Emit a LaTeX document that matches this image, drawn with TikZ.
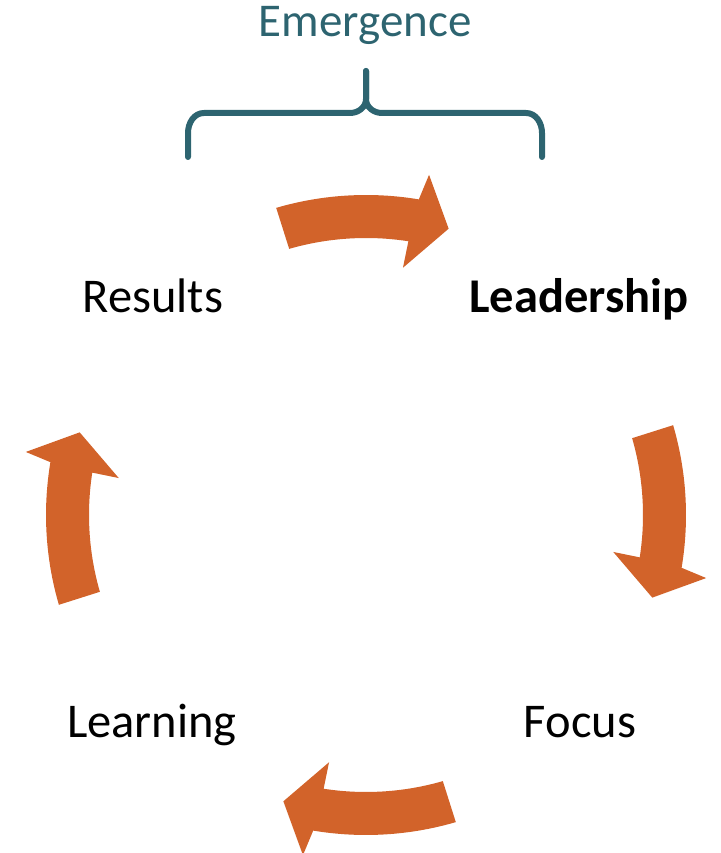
\documentclass[tikz,border=0pt]{standalone}
\usepackage{fontspec}
\setmainfont{Carlito}
\usepackage{xcolor}
\definecolor{cycleorange}{HTML}{D2632A}
\definecolor{braceteal}{HTML}{2D6470}

\begin{document}
\begin{tikzpicture}[x=1pt,y=1pt]
    \useasboundingbox (0,0) rectangle (720,853);

    \begin{scope}[every node/.style={anchor=base,font=\fontsize{48.5}{52}\selectfont}]
      \node (results) at (153,540) {Results};
      \node (leadership) at (579,540) {\textbf{Leadership}};
      \node (focus) at (580,115) {Focus};
      \node (learning) at (152,115) {Learning};
      \node[text=braceteal,font=\fontsize{47}{52}\selectfont] (emergence) at (365,816) {Emergence};
    \end{scope}

    % cycle arrows
    \begin{scope}[shift={(366,338)}]
      \foreach \a in {90,0,-90,180} {
        \fill[cycleorange] (\a+16.3:320) arc[start angle=\a+16.3, end angle=\a-9.5, radius=320]
          -- (\a-10.5:346) -- (\a-16.1:298) -- (\a-8.5:250) -- (\a-8.8:277)
          arc[start angle=\a-8.8, end angle=\a+16.1, radius=277] -- cycle;
      }
    \end{scope}

    % brace
    \coordinate (bl) at (188,696);
    \coordinate (br) at (542,696);
    \coordinate (bt) at (366,782);
    \draw[braceteal,line width=6pt,line cap=round,line join=round]
      (bl) -- ++(0,24) to[out=90,in=180] ++(16,20) -- (350,740)
      to[out=0,in=-90] ++(16,14) -- (bt);
    \draw[braceteal,line width=6pt,line cap=round,line join=round]
      (br) -- ++(0,24) to[out=90,in=0] ++(-16,20) -- (382,740)
      to[out=180,in=-90] ++(-16,14) -- (bt);
\end{tikzpicture}
\end{document}
